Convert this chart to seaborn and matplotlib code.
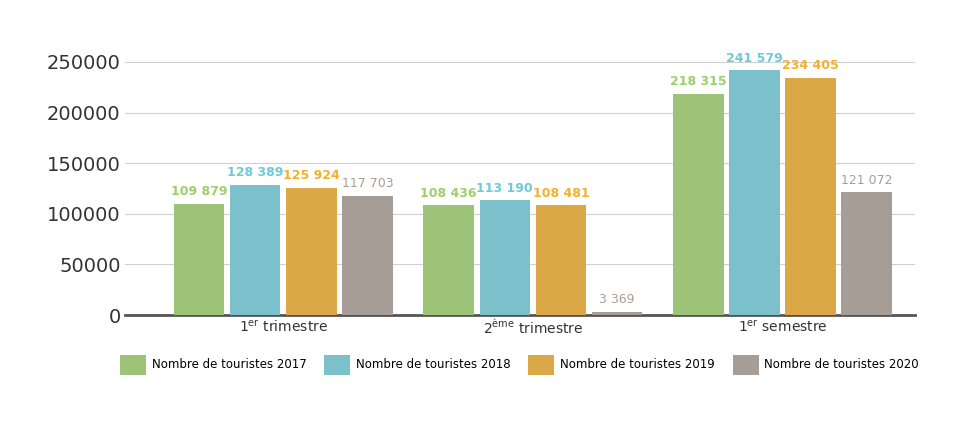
import matplotlib
matplotlib.use("Agg")
import matplotlib.pyplot as plt
import seaborn as sns
import pandas as pd

categories = [r"1$^{\rm er}$ trimestre", r"2$^{\rm ème}$ trimestre", r"1$^{\rm er}$ semestre"]
series = ["Nombre de touristes 2017", "Nombre de touristes 2018",
          "Nombre de touristes 2019", "Nombre de touristes 2020"]
v2017 = [109879, 108436, 218315]
v2018 = [128389, 113190, 241579]
v2019 = [125924, 108481, 234405]
v2020 = [117703, 3369, 121072]
colors = ["#9dcf6b", "#6fc9d9", "#f4b02f", "#a99d94"]

rows = []
for s, vals in zip(series, [v2017, v2018, v2019, v2020]):
    for c, v in zip(categories, vals):
        rows.append({"cat": c, "serie": s, "val": v})
df = pd.DataFrame(rows)

fig = plt.figure(figsize=(9.8, 4.24), dpi=100)
ax = fig.add_axes([0.128, 0.257, 0.806, 0.597])
sns.barplot(data=df, x="cat", y="val", hue="serie", palette=colors,
            width=0.9, gap=0.1, ax=ax, legend=True, zorder=3)
ax.set_ylim(0, 250000)
ax.set_xlim(-0.632, 2.532)
ax.set_yticks(range(0, 250001, 50000))
ax.grid(axis="y", color="#d0d0d0", lw=0.8, zorder=0)
ax.set_axisbelow(True)
for sp in ["top", "right", "left"]:
    ax.spines[sp].set_visible(False)
ax.spines["bottom"].set_color("#555555")
ax.spines["bottom"].set_linewidth(2)
ax.tick_params(axis="y", length=0, labelsize=14, labelcolor="#333333")
ax.tick_params(axis="x", length=0, labelsize=10, labelcolor="#333333", pad=3)
ax.set_xlabel("")
ax.set_ylabel("")

for cont, col in zip(ax.containers, colors):
    labels = [f"{int(v):,}".replace(",", " ") for v in cont.datavalues]
    ax.bar_label(cont, labels=labels, color=col, fontsize=9, padding=4,
                 fontweight="bold" if col != colors[3] else "normal", clip_on=False)

handles, labs = ax.get_legend_handles_labels()
ax.get_legend().remove()
fig.legend(handles, labs, ncol=4, loc="center", bbox_to_anchor=(0.53, 0.14),
           frameon=False, fontsize=8.5, handlelength=2.2, handleheight=2.2,
           columnspacing=1.5, handletextpad=0.5)
fig.savefig("out.png", dpi=100)
